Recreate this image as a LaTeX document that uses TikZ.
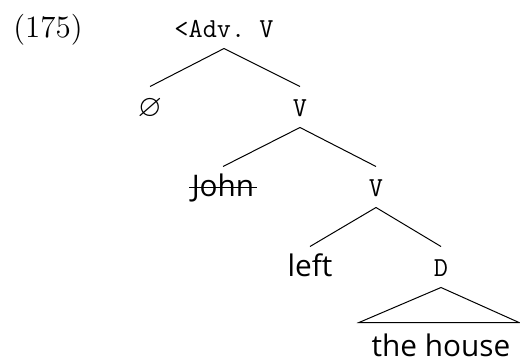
\documentclass[tikz,border=0pt]{standalone}
\usepackage{fontspec}
\usepackage{amssymb}
\newfontfamily\treesans{Open Sans}
\usetikzlibrary{calc}
\begin{document}
\begin{tikzpicture}[x=0.4pt,y=-0.4pt,
  lbl/.style={anchor=base,inner xsep=0pt,inner ysep=2.8pt,text height=8.8pt,text depth=1.6pt,font=\fontsize{12.4}{15}\selectfont},
  monolbl/.style={lbl,font=\fontsize{11}{14}\selectfont\ttfamily},
  sanslbl/.style={lbl,font=\fontsize{11.9}{14}\selectfont\treesans},
  edge/.style={line width=0.4pt}]
\useasboundingbox (0,0) rectangle (520,360);
\node[lbl] (num) at (48,37) {(175)};
\node[monolbl] (root) at (224,37) {<Adv.\ V};
\node[lbl] (empty) at (150,116) {$\varnothing$};
\node[monolbl] (v1) at (300,116) {V};
\node[sanslbl] (john) at (223,196) {John};
\node[monolbl] (v2) at (376,196) {V};
\node[sanslbl] (left) at (310,276) {left};
\node[monolbl] (d) at (441,276) {D};
\node[sanslbl] (house) at (441,356) {the house};
\draw[edge] (root.south) -- (empty.north);
\draw[edge] (root.south) -- (v1.north);
\draw[edge] (v1.south) -- (john.north);
\draw[edge] (v1.south) -- (v2.north);
\draw[edge] (v2.south) -- (left.north);
\draw[edge] (v2.south) -- (d.north);
\draw[edge] (d.south) -- ($(house.north)+(78,-4)$) -- ($(house.north)+(-82,-4)$) -- cycle;
\draw[edge] ($(john.base west)+(-2,-9)$) -- ($(john.base east)+(2,-9)$);
\end{tikzpicture}
\end{document}
